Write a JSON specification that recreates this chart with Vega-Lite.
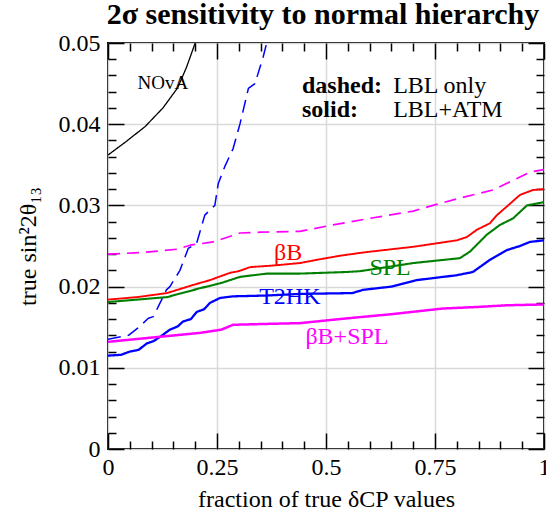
{
  "$schema": "https://vega.github.io/schema/vega-lite/v6.json",
  "width": 436,
  "height": 406,
  "autosize": "none",
  "padding": {"left": 108, "top": 43, "right": 2, "bottom": 64},
  "background": "white",
  "config": {
    "font": "Liberation Serif",
    "view": {"stroke": "black", "strokeWidth": 2},
    "axis": {
      "labelFont": "Liberation Serif",
      "labelFontSize": 24,
      "labelColor": "black",
      "titleFont": "Liberation Serif",
      "titleFontSize": 24,
      "titleFontWeight": "normal",
      "titleColor": "black",
      "domain": false,
      "tickColor": "black",
      "tickWidth": 1.5,
      "labelOverlap": false,
      "labelFlush": false,
      "labelBound": false
    }
  },
  "title": {
    "text": "2σ sensitivity to normal hierarchy",
    "font": "Liberation Serif",
    "fontSize": 30,
    "fontWeight": "bold",
    "color": "black",
    "anchor": "middle",
    "frame": "group",
    "baseline": "alphabetic",
    "offset": -23,
    "dx": -3
  },
  "datasets": {
    "curves": [
      {"series": "NOvA", "f": 0, "v": 0.0362},
      {"series": "NOvA", "f": 0.04, "v": 0.0378},
      {"series": "NOvA", "f": 0.085, "v": 0.0397},
      {"series": "NOvA", "f": 0.126, "v": 0.042},
      {"series": "NOvA", "f": 0.16, "v": 0.0445},
      {"series": "NOvA", "f": 0.18, "v": 0.047},
      {"series": "NOvA", "f": 0.2, "v": 0.05},

      {"series": "T2HK LBL", "f": 0, "v": 0.0135},
      {"series": "T2HK LBL", "f": 0.047, "v": 0.0140},
      {"series": "T2HK LBL", "f": 0.073, "v": 0.0151},
      {"series": "T2HK LBL", "f": 0.0925, "v": 0.0161},
      {"series": "T2HK LBL", "f": 0.104, "v": 0.0163},
      {"series": "T2HK LBL", "f": 0.115, "v": 0.0175},
      {"series": "T2HK LBL", "f": 0.134, "v": 0.0196},
      {"series": "T2HK LBL", "f": 0.142, "v": 0.0200},
      {"series": "T2HK LBL", "f": 0.165, "v": 0.0220},
      {"series": "T2HK LBL", "f": 0.177, "v": 0.0237},
      {"series": "T2HK LBL", "f": 0.184, "v": 0.0247},
      {"series": "T2HK LBL", "f": 0.203, "v": 0.0253},
      {"series": "T2HK LBL", "f": 0.222, "v": 0.0288},
      {"series": "T2HK LBL", "f": 0.245, "v": 0.0300},
      {"series": "T2HK LBL", "f": 0.253, "v": 0.0327},
      {"series": "T2HK LBL", "f": 0.268, "v": 0.0348},
      {"series": "T2HK LBL", "f": 0.287, "v": 0.0370},
      {"series": "T2HK LBL", "f": 0.303, "v": 0.0401},
      {"series": "T2HK LBL", "f": 0.322, "v": 0.0444},
      {"series": "T2HK LBL", "f": 0.337, "v": 0.0450},
      {"series": "T2HK LBL", "f": 0.356, "v": 0.0483},
      {"series": "T2HK LBL", "f": 0.364, "v": 0.0500},

      {"series": "βB+SPL LBL", "f": 0, "v": 0.0240},
      {"series": "βB+SPL LBL", "f": 0.08, "v": 0.0242},
      {"series": "βB+SPL LBL", "f": 0.158, "v": 0.0246},
      {"series": "βB+SPL LBL", "f": 0.188, "v": 0.0251},
      {"series": "βB+SPL LBL", "f": 0.241, "v": 0.0255},
      {"series": "βB+SPL LBL", "f": 0.303, "v": 0.0266},
      {"series": "βB+SPL LBL", "f": 0.35, "v": 0.0267},
      {"series": "βB+SPL LBL", "f": 0.44, "v": 0.0268},
      {"series": "βB+SPL LBL", "f": 0.516, "v": 0.0276},
      {"series": "βB+SPL LBL", "f": 0.6, "v": 0.0284},
      {"series": "βB+SPL LBL", "f": 0.7, "v": 0.0293},
      {"series": "βB+SPL LBL", "f": 0.745, "v": 0.0300},
      {"series": "βB+SPL LBL", "f": 0.8, "v": 0.0308},
      {"series": "βB+SPL LBL", "f": 0.883, "v": 0.0319},
      {"series": "βB+SPL LBL", "f": 0.929, "v": 0.0331},
      {"series": "βB+SPL LBL", "f": 0.968, "v": 0.0341},
      {"series": "βB+SPL LBL", "f": 1.0, "v": 0.0344},

      {"series": "βB LBL+ATM", "f": 0, "v": 0.0184},
      {"series": "βB LBL+ATM", "f": 0.066, "v": 0.0187},
      {"series": "βB LBL+ATM", "f": 0.135, "v": 0.0192},
      {"series": "βB LBL+ATM", "f": 0.165, "v": 0.0197},
      {"series": "βB LBL+ATM", "f": 0.195, "v": 0.0202},
      {"series": "βB LBL+ATM", "f": 0.234, "v": 0.0208},
      {"series": "βB LBL+ATM", "f": 0.28, "v": 0.0217},
      {"series": "βB LBL+ATM", "f": 0.30, "v": 0.0219},
      {"series": "βB LBL+ATM", "f": 0.326, "v": 0.0224},
      {"series": "βB LBL+ATM", "f": 0.38, "v": 0.0226},
      {"series": "βB LBL+ATM", "f": 0.44, "v": 0.0229},
      {"series": "βB LBL+ATM", "f": 0.479, "v": 0.0233},
      {"series": "βB LBL+ATM", "f": 0.532, "v": 0.0238},
      {"series": "βB LBL+ATM", "f": 0.585, "v": 0.0242},
      {"series": "βB LBL+ATM", "f": 0.65, "v": 0.0246},
      {"series": "βB LBL+ATM", "f": 0.70, "v": 0.0249},
      {"series": "βB LBL+ATM", "f": 0.80, "v": 0.0257},
      {"series": "βB LBL+ATM", "f": 0.823, "v": 0.0261},
      {"series": "βB LBL+ATM", "f": 0.846, "v": 0.0270},
      {"series": "βB LBL+ATM", "f": 0.876, "v": 0.0278},
      {"series": "βB LBL+ATM", "f": 0.892, "v": 0.0288},
      {"series": "βB LBL+ATM", "f": 0.922, "v": 0.0302},
      {"series": "βB LBL+ATM", "f": 0.945, "v": 0.0313},
      {"series": "βB LBL+ATM", "f": 0.975, "v": 0.0319},
      {"series": "βB LBL+ATM", "f": 1.0, "v": 0.0320},

      {"series": "SPL LBL+ATM", "f": 0, "v": 0.0181},
      {"series": "SPL LBL+ATM", "f": 0.135, "v": 0.0187},
      {"series": "SPL LBL+ATM", "f": 0.211, "v": 0.0198},
      {"series": "SPL LBL+ATM", "f": 0.257, "v": 0.0204},
      {"series": "SPL LBL+ATM", "f": 0.303, "v": 0.0212},
      {"series": "SPL LBL+ATM", "f": 0.364, "v": 0.0216},
      {"series": "SPL LBL+ATM", "f": 0.44, "v": 0.0216},
      {"series": "SPL LBL+ATM", "f": 0.548, "v": 0.0218},
      {"series": "SPL LBL+ATM", "f": 0.578, "v": 0.0219},
      {"series": "SPL LBL+ATM", "f": 0.64, "v": 0.0224},
      {"series": "SPL LBL+ATM", "f": 0.70, "v": 0.0229},
      {"series": "SPL LBL+ATM", "f": 0.807, "v": 0.0235},
      {"series": "SPL LBL+ATM", "f": 0.83, "v": 0.0243},
      {"series": "SPL LBL+ATM", "f": 0.869, "v": 0.0264},
      {"series": "SPL LBL+ATM", "f": 0.899, "v": 0.0276},
      {"series": "SPL LBL+ATM", "f": 0.929, "v": 0.0284},
      {"series": "SPL LBL+ATM", "f": 0.961, "v": 0.0300},
      {"series": "SPL LBL+ATM", "f": 1.0, "v": 0.0304},

      {"series": "T2HK LBL+ATM", "f": 0, "v": 0.0115},
      {"series": "T2HK LBL+ATM", "f": 0.03, "v": 0.0116},
      {"series": "T2HK LBL+ATM", "f": 0.05, "v": 0.0120},
      {"series": "T2HK LBL+ATM", "f": 0.07, "v": 0.0122},
      {"series": "T2HK LBL+ATM", "f": 0.089, "v": 0.0130},
      {"series": "T2HK LBL+ATM", "f": 0.105, "v": 0.0133},
      {"series": "T2HK LBL+ATM", "f": 0.119, "v": 0.0138},
      {"series": "T2HK LBL+ATM", "f": 0.142, "v": 0.0147},
      {"series": "T2HK LBL+ATM", "f": 0.16, "v": 0.0151},
      {"series": "T2HK LBL+ATM", "f": 0.172, "v": 0.0157},
      {"series": "T2HK LBL+ATM", "f": 0.19, "v": 0.0160},
      {"series": "T2HK LBL+ATM", "f": 0.204, "v": 0.0169},
      {"series": "T2HK LBL+ATM", "f": 0.22, "v": 0.0172},
      {"series": "T2HK LBL+ATM", "f": 0.234, "v": 0.0180},
      {"series": "T2HK LBL+ATM", "f": 0.257, "v": 0.0186},
      {"series": "T2HK LBL+ATM", "f": 0.287, "v": 0.0188},
      {"series": "T2HK LBL+ATM", "f": 0.364, "v": 0.0189},
      {"series": "T2HK LBL+ATM", "f": 0.44, "v": 0.0191},
      {"series": "T2HK LBL+ATM", "f": 0.56, "v": 0.0192},
      {"series": "T2HK LBL+ATM", "f": 0.585, "v": 0.0196},
      {"series": "T2HK LBL+ATM", "f": 0.65, "v": 0.0200},
      {"series": "T2HK LBL+ATM", "f": 0.708, "v": 0.0208},
      {"series": "T2HK LBL+ATM", "f": 0.80, "v": 0.0214},
      {"series": "T2HK LBL+ATM", "f": 0.837, "v": 0.0218},
      {"series": "T2HK LBL+ATM", "f": 0.876, "v": 0.0233},
      {"series": "T2HK LBL+ATM", "f": 0.915, "v": 0.0245},
      {"series": "T2HK LBL+ATM", "f": 0.945, "v": 0.0250},
      {"series": "T2HK LBL+ATM", "f": 0.968, "v": 0.0255},
      {"series": "T2HK LBL+ATM", "f": 1.0, "v": 0.0257},

      {"series": "βB+SPL LBL+ATM", "f": 0, "v": 0.0132},
      {"series": "βB+SPL LBL+ATM", "f": 0.096, "v": 0.0137},
      {"series": "βB+SPL LBL+ATM", "f": 0.211, "v": 0.0143},
      {"series": "βB+SPL LBL+ATM", "f": 0.26, "v": 0.0147},
      {"series": "βB+SPL LBL+ATM", "f": 0.287, "v": 0.0153},
      {"series": "βB+SPL LBL+ATM", "f": 0.36, "v": 0.0154},
      {"series": "βB+SPL LBL+ATM", "f": 0.44, "v": 0.0155},
      {"series": "βB+SPL LBL+ATM", "f": 0.55, "v": 0.0161},
      {"series": "βB+SPL LBL+ATM", "f": 0.65, "v": 0.0166},
      {"series": "βB+SPL LBL+ATM", "f": 0.768, "v": 0.0173},
      {"series": "βB+SPL LBL+ATM", "f": 0.85, "v": 0.0175},
      {"series": "βB+SPL LBL+ATM", "f": 0.915, "v": 0.0177},
      {"series": "βB+SPL LBL+ATM", "f": 1.0, "v": 0.0178}
    ],
    "curveLabels": [
      {"label": "βB", "series": "βB LBL+ATM", "f": 0.413, "v": 0.0241},
      {"label": "SPL", "series": "SPL LBL+ATM", "f": 0.647, "v": 0.0223},
      {"label": "T2HK", "series": "T2HK LBL+ATM", "f": 0.417, "v": 0.0187},
      {"label": "βB+SPL", "series": "βB+SPL LBL+ATM", "f": 0.548, "v": 0.0138}
    ],
    "legendKeys": [
      {"label": "dashed:", "f": 0.445, "v": 0.04384},
      {"label": "solid:", "f": 0.445, "v": 0.04089}
    ],
    "legendValues": [
      {"label": "LBL only", "f": 0.654, "v": 0.04384},
      {"label": "LBL+ATM", "f": 0.654, "v": 0.04089}
    ],
    "expLabels": [
      {"label": "NOvA", "f": 0.126, "v": 0.0451}
    ]
  },
  "layer": [
    {
      "data": {"name": "curves"},
      "mark": {"type": "line", "clip": true, "strokeCap": "butt", "strokeJoin": "round"},
      "encoding": {
        "x": {
          "field": "f", "type": "quantitative",
          "scale": {"domain": [0, 1], "nice": false, "zero": false},
          "axis": {
            "orient": "bottom",
            "values": [0, 0.05, 0.1, 0.15, 0.2, 0.25, 0.3, 0.35, 0.4, 0.45, 0.5, 0.55, 0.6, 0.65, 0.7, 0.75, 0.8, 0.85, 0.9, 0.95, 1],
            "labelExpr": "abs(datum.value*4-round(datum.value*4))<1e-6 ? format(datum.value, '~g') : ''",
            "tickSize": {"condition": {"test": "abs(datum.value*4-round(datum.value*4))<1e-6", "value": -16}, "value": -8},
            "labelPadding": 22,
            "grid": true,
            "gridColor": "#d9d9d9",
            "gridWidth": 1.5,
            "gridOpacity": {"condition": {"test": "abs(datum.value*4-round(datum.value*4))<1e-6", "value": 1}, "value": 0},
            "title": "fraction of true δCP values",
            "titlePadding": 0
          }
        },
        "y": {
          "field": "v", "type": "quantitative",
          "scale": {"domain": [0, 0.05], "nice": false, "zero": false},
          "axis": {
            "orient": "left",
            "values": [0, 0.002, 0.004, 0.006, 0.008, 0.01, 0.012, 0.014, 0.016, 0.018, 0.02, 0.022, 0.024, 0.026, 0.028, 0.03, 0.032, 0.034, 0.036, 0.038, 0.04, 0.042, 0.044, 0.046, 0.048, 0.05],
            "labelExpr": "abs(datum.value*100-round(datum.value*100))<1e-6 ? format(datum.value, '~g') : ''",
            "tickSize": {"condition": {"test": "abs(datum.value*100-round(datum.value*100))<1e-6", "value": -16}, "value": -8},
            "labelPadding": 24,
            "grid": true,
            "gridColor": "#d9d9d9",
            "gridWidth": 1.5,
            "gridOpacity": {"condition": {"test": "abs(datum.value*100-round(datum.value*100))<1e-6", "value": 1}, "value": 0},
            "title": "true  sin²2θ₁₃",
            "titlePadding": 18
          }
        },
        "color": {
          "field": "series", "type": "nominal", "legend": null,
          "scale": {
            "domain": ["NOvA", "T2HK LBL", "βB+SPL LBL", "βB LBL+ATM", "SPL LBL+ATM", "T2HK LBL+ATM", "βB+SPL LBL+ATM"],
            "range": ["#000000", "#0000ff", "#ff00ff", "#ff0000", "#008000", "#0000ff", "#ff00ff"]
          }
        },
        "strokeDash": {
          "field": "series", "type": "nominal", "legend": null,
          "scale": {
            "domain": ["NOvA", "T2HK LBL", "βB+SPL LBL", "βB LBL+ATM", "SPL LBL+ATM", "T2HK LBL+ATM", "βB+SPL LBL+ATM"],
            "range": [[1, 0], [13, 7], [12, 7], [1, 0], [1, 0], [1, 0], [1, 0]]
          }
        },
        "strokeWidth": {
          "field": "series", "type": "nominal", "legend": null,
          "scale": {
            "domain": ["NOvA", "T2HK LBL", "βB+SPL LBL", "βB LBL+ATM", "SPL LBL+ATM", "T2HK LBL+ATM", "βB+SPL LBL+ATM"],
            "range": [1.3, 2.5, 2.5, 3.5, 3.5, 3.5, 3.5]
          }
        }
      }
    },
    {
      "data": {"name": "curveLabels"},
      "mark": {"type": "text", "font": "Liberation Serif", "fontSize": 24, "align": "center", "baseline": "middle"},
      "encoding": {
        "x": {
          "field": "f", "type": "quantitative",
          "axis": {
            "orient": "top",
            "values": [0, 0.05, 0.1, 0.15, 0.2, 0.25, 0.3, 0.35, 0.4, 0.45, 0.5, 0.55, 0.6, 0.65, 0.7, 0.75, 0.8, 0.85, 0.9, 0.95, 1],
            "labels": false,
            "grid": false,
            "title": null,
            "tickSize": {"condition": {"test": "abs(datum.value*4-round(datum.value*4))<1e-6", "value": -16}, "value": -8}
          }
        },
        "y": {
          "field": "v", "type": "quantitative",
          "axis": {
            "orient": "right",
            "values": [0, 0.002, 0.004, 0.006, 0.008, 0.01, 0.012, 0.014, 0.016, 0.018, 0.02, 0.022, 0.024, 0.026, 0.028, 0.03, 0.032, 0.034, 0.036, 0.038, 0.04, 0.042, 0.044, 0.046, 0.048, 0.05],
            "labels": false,
            "grid": false,
            "title": null,
            "tickSize": {"condition": {"test": "abs(datum.value*100-round(datum.value*100))<1e-6", "value": -16}, "value": -8}
          }
        },
        "text": {"field": "label"},
        "color": {"field": "series", "type": "nominal", "legend": null}
      }
    },
    {
      "data": {"name": "legendKeys"},
      "mark": {"type": "text", "font": "Liberation Serif", "fontSize": 24, "fontWeight": "bold", "align": "left", "baseline": "alphabetic", "color": "black"},
      "encoding": {
        "x": {"field": "f", "type": "quantitative", "axis": null},
        "y": {"field": "v", "type": "quantitative", "axis": null},
        "text": {"field": "label"}
      }
    },
    {
      "data": {"name": "legendValues"},
      "mark": {"type": "text", "font": "Liberation Serif", "fontSize": 24, "align": "left", "baseline": "alphabetic", "color": "black"},
      "encoding": {
        "x": {"field": "f", "type": "quantitative", "axis": null},
        "y": {"field": "v", "type": "quantitative", "axis": null},
        "text": {"field": "label"}
      }
    },
    {
      "data": {"name": "expLabels"},
      "mark": {"type": "text", "font": "Liberation Serif", "fontSize": 19, "align": "center", "baseline": "middle", "color": "black"},
      "encoding": {
        "x": {"field": "f", "type": "quantitative", "axis": null},
        "y": {"field": "v", "type": "quantitative", "axis": null},
        "text": {"field": "label"}
      }
    }
  ],
  "resolve": {"axis": {"x": "independent", "y": "independent"}}
}
